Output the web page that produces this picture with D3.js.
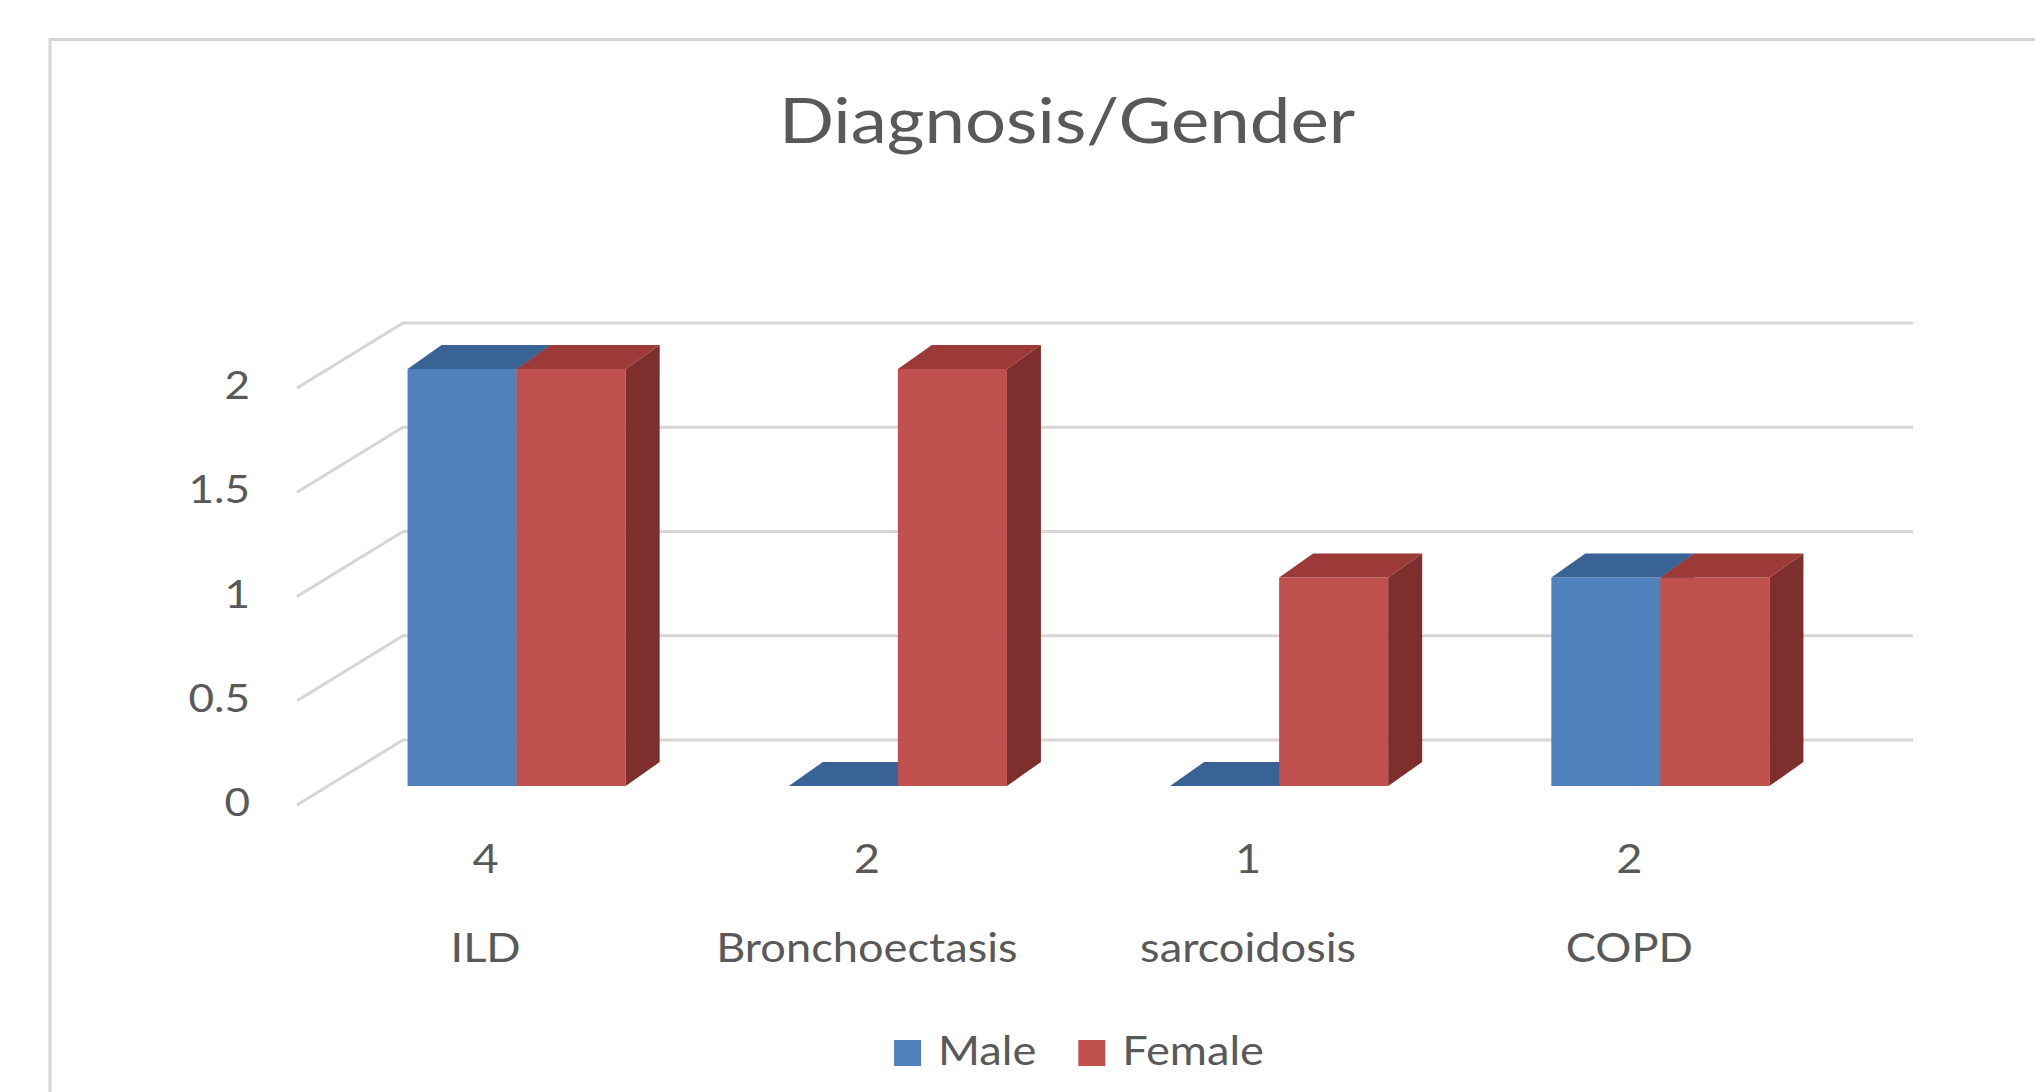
<!DOCTYPE html>
<html>
<head>
<meta charset="utf-8">
<script src="https://cdn.jsdelivr.net/npm/d3@7"></script>
<style>
  html, body { margin: 0; padding: 0; background: #ffffff; }
  svg { display: block; }
  text { font-family: Lato, "Open Sans", sans-serif; fill: #595959; }
</style>
</head>
<body>
<svg id="chart" width="2035" height="1092"></svg>
<script>
// Diagnosis by gender (counts)
const categories = ["ILD", "Bronchoectasis", "sarcoidosis", "COPD"];
const totals = ["4", "2", "1", "2"];
const series = ["Male", "Female"];
const maleValues = [2, 0, 0, 1];
const femaleValues = [2, 2, 1, 1];
const yTicks = [0, 0.5, 1, 1.5, 2];
const title = "Diagnosis/Gender";

const colors = {
  Male:   { front: "#4f81bd", top: "#3a6395", side: "#2f5481" },
  Female: { front: "#c0504d", top: "#9b3a37", side: "#7e2e2c" }
};

const W = 2035, H = 1092;
const SX = 1.13;              // horizontal stretch applied to all text
const svg = d3.select("#chart");

// oblique 3D geometry
const wall = { dx: 106, dy: -65 };   // front edge -> back wall
const barShift = { dx: 31, dy: -19 }; // front edge -> bar front face
const barDepth = { dx: 34, dy: -24 }; // bar front face -> bar back face
const frontLeft = 297, backRight = 1913;

const y = d3.scaleLinear().domain([0, 2]).range([805, 388]);

const x0 = d3.scaleBand().domain(categories)
  .range([326, 1851]).paddingInner(0.428).paddingOuter(0.214);
const x1 = d3.scaleBand().domain(series).range([0, x0.bandwidth()]);

function stext(g, str, x, yy, size, anchor, sx) {
  return g.append("text")
    .attr("transform", `translate(${x},${yy}) scale(${sx || SX},1)`)
    .attr("text-anchor", anchor || "middle")
    .attr("font-size", size)
    .text(str);
}

// chart frame
svg.append("rect")
  .attr("x", 50).attr("y", 39.5).attr("width", W).attr("height", H)
  .attr("fill", "none").attr("stroke", "#d6d6d6").attr("stroke-width", 3);

// title
stext(svg, title, 1067, 143, 62, "middle", 1.17);

// gridlines: side wall diagonals + back wall horizontals
const grid = svg.append("g").attr("stroke", "#d6d6d6").attr("stroke-width", 3).attr("fill", "none");
yTicks.forEach(t => {
  const yf = y(t);
  grid.append("path")
    .attr("d", `M${frontLeft},${yf} L${frontLeft + wall.dx},${yf + wall.dy} L${backRight},${yf + wall.dy}`);
});

// y tick labels
const yAxis = svg.append("g");
yTicks.forEach(t => {
  stext(yAxis, d3.format("")(t), 250, y(t) + 11, 39, "end");
});

// bars as prisms
const rows = categories.map((c, i) => ({ cat: c, Male: maleValues[i], Female: femaleValues[i] }));
const bars = svg.append("g");
rows.forEach(r => {
  series.forEach(s => {
    const v = r[s];
    const xl = x0(r.cat) + x1(s);
    const xr = xl + x1.bandwidth();
    const yb = y(0) + barShift.dy;
    const yt = y(v) + barShift.dy;
    const c = colors[s];
    const g = bars.append("g");
    if (v > 0) {
      g.append("rect").attr("x", xl).attr("y", yt).attr("width", xr - xl).attr("height", yb - yt)
        .attr("fill", c.front);
      g.append("path")
        .attr("d", `M${xr},${yt} L${xr + barDepth.dx},${yt + barDepth.dy} L${xr + barDepth.dx},${yb + barDepth.dy} L${xr},${yb} Z`)
        .attr("fill", c.side);
    }
    g.append("path")
      .attr("d", `M${xl},${yt} L${xl + barDepth.dx},${yt + barDepth.dy} L${xr + barDepth.dx},${yt + barDepth.dy} L${xr},${yt} Z`)
      .attr("fill", c.top);
  });
});

// category axis: totals and names, on the front edge
const xAxis = svg.append("g");
categories.forEach((c, i) => {
  const cx = x0(c) + x0.bandwidth() / 2 - barShift.dx;
  stext(xAxis, totals[i], cx, 873, 40);
  stext(xAxis, c, cx, 962, 40);
});

// legend
const legend = svg.append("g");
const items = [];
let cursor = 0;
series.forEach((s, i) => {
  const g = legend.append("g");
  g.append("rect").attr("x", 0).attr("y", -25).attr("width", 27).attr("height", 26)
    .attr("fill", colors[s].front);
  const t = stext(g, s, 44, 0, 40, "start");
  const w = 44 + t.node().getComputedTextLength() * SX;
  items.push({ g, x: cursor });
  cursor += w + (i < series.length - 1 ? 42 : 0);
});
const lx = 1079 - cursor / 2;
items.forEach(it => it.g.attr("transform", `translate(${lx + it.x},1065)`));
</script>
</body>
</html>
